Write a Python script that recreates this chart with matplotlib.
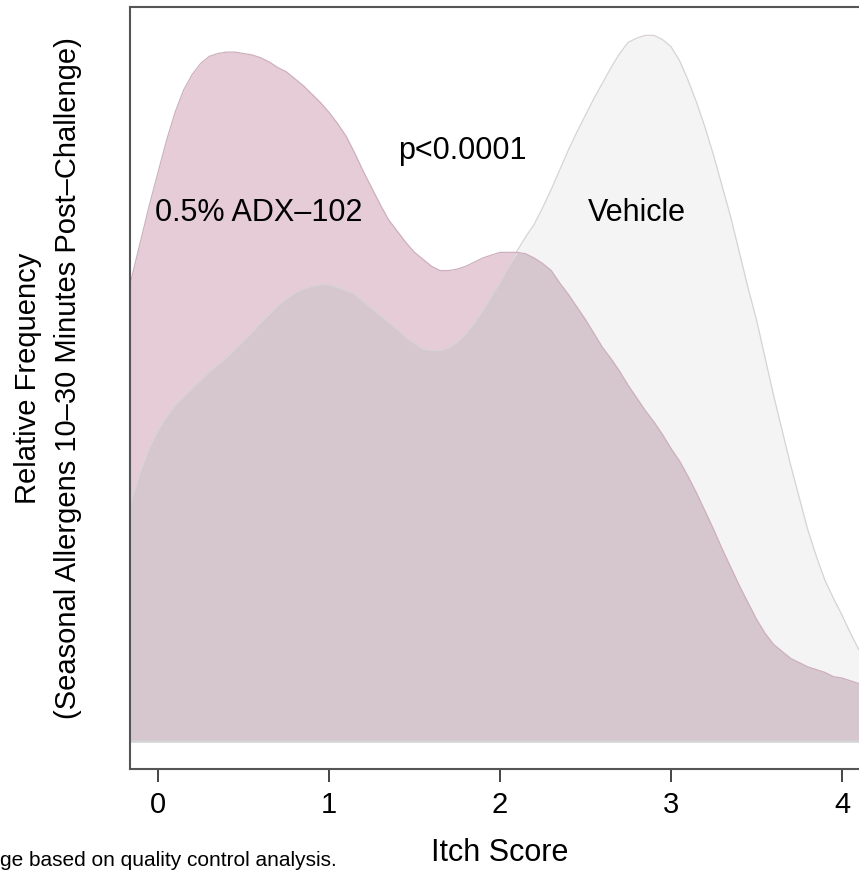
import numpy as np
import matplotlib.pyplot as plt

plt.rcParams['font.family'] = ['Liberation Sans', 'DejaVu Sans']

# itch score grid (x) and density heights
itch = [-0.164, -0.1, -0.05, 0.0, 0.05, 0.1, 0.15, 0.2, 0.25, 0.3, 0.35, 0.4,
        0.45, 0.5, 0.55, 0.6, 0.65, 0.7, 0.75, 0.8, 0.85, 0.9, 0.95, 1.0,
        1.05, 1.1, 1.15, 1.2, 1.25, 1.3, 1.35, 1.4, 1.45, 1.5, 1.55, 1.6,
        1.65, 1.7, 1.75, 1.8, 1.85, 1.9, 1.95, 2.0, 2.05, 2.1, 2.15, 2.2,
        2.25, 2.3, 2.35, 2.4, 2.45, 2.5, 2.55, 2.6, 2.65, 2.7, 2.75, 2.8,
        2.85, 2.9, 2.95, 3.0, 3.05, 3.1, 3.15, 3.2, 3.25, 3.3, 3.35, 3.4,
        3.45, 3.5, 3.55, 3.6, 3.65, 3.7, 3.75, 3.8, 3.85, 3.9, 3.95, 4.0,
        4.05, 4.1]

# 0.5% ADX-102
adx = [0.326, 0.358, 0.383, 0.406, 0.429, 0.449, 0.465, 0.476, 0.484, 0.489,
       0.491, 0.492, 0.492, 0.491, 0.490, 0.488, 0.485, 0.481, 0.478, 0.473,
       0.468, 0.462, 0.456, 0.449, 0.441, 0.432, 0.420, 0.407, 0.395, 0.383,
       0.372, 0.364, 0.356, 0.349, 0.344, 0.339, 0.336, 0.336, 0.337, 0.339,
       0.342, 0.345, 0.347, 0.349, 0.349, 0.349, 0.348, 0.345, 0.341, 0.336,
       0.327, 0.319, 0.310, 0.301, 0.291, 0.281, 0.273, 0.264, 0.254, 0.245,
       0.236, 0.228, 0.219, 0.209, 0.200, 0.189, 0.177, 0.164, 0.151, 0.137,
       0.124, 0.111, 0.099, 0.087, 0.077, 0.069, 0.064, 0.059, 0.056, 0.053,
       0.051, 0.049, 0.046, 0.045, 0.043, 0.041]

# Vehicle
vehicle = [0.169, 0.194, 0.210, 0.222, 0.232, 0.240, 0.246, 0.252, 0.258,
           0.264, 0.269, 0.274, 0.280, 0.286, 0.292, 0.299, 0.305, 0.311,
           0.316, 0.320, 0.323, 0.325, 0.326, 0.326, 0.324, 0.322, 0.319,
           0.314, 0.309, 0.304, 0.299, 0.294, 0.288, 0.284, 0.280, 0.279,
           0.279, 0.281, 0.285, 0.291, 0.299, 0.308, 0.318, 0.328, 0.339,
           0.350, 0.360, 0.369, 0.381, 0.394, 0.408, 0.422, 0.435, 0.447,
           0.459, 0.470, 0.481, 0.491, 0.499, 0.502, 0.504, 0.504, 0.501,
           0.496, 0.486, 0.472, 0.456, 0.438, 0.418, 0.396, 0.374, 0.349,
           0.324, 0.301, 0.274, 0.247, 0.222, 0.197, 0.174, 0.151, 0.132,
           0.115, 0.102, 0.090, 0.077, 0.065]

labels = ['0.5% ADX–102', 'Vehicle']
pvalue = 'p<0.0001'

itch = np.array(itch)
adx = np.array(adx)
vehicle = np.array(vehicle)

fig = plt.figure(figsize=(8.59, 8.73), dpi=100)
ax = fig.add_axes([0.1513, 0.1191, 0.8786, 0.873])

ax.fill_between(itch, 0, adx, color='#e5ccd6', lw=0)
ax.fill_between(itch, 0, vehicle, color='#f4f4f4', lw=0)
ax.fill_between(itch, 0, np.minimum(adx, vehicle), color='#d6c6ce', lw=0)
ax.plot(itch, vehicle, color='#d8d2d5', lw=0.9)
ax.plot(itch, adx, color='#cdb0bd', lw=0.9)
ax.axhline(0, color='#d4d4d4', lw=1.8)

ax.set_xlim(-0.164, 4.25)
ax.set_ylim(-0.02, 0.5243)
ax.set_xticks([0, 1, 2, 3, 4])
ax.set_yticks([])
ax.tick_params(axis='x', length=9, width=1.4, color='#444444', labelsize=21, pad=7)
for s in ax.spines.values():
    s.set_color('#555555')
    s.set_linewidth(1.5)

fig.text(0.5815, 0.0229, 'Itch Score', fontsize=22, ha='center', va='center')
fig.text(0.0559, 0.5665,
         'Relative Frequency\n(Seasonal Allergens 10–30 Minutes Post–Challenge)',
         fontsize=21, rotation=90, ha='center', va='center',
         multialignment='center', linespacing=1.55)

ax.text(0.591, 0.377, labels[0], fontsize=22, ha='center', va='center')
ax.text(2.798, 0.377, labels[1], fontsize=22, ha='center', va='center')
ax.text(1.781, 0.4215, pvalue, fontsize=22, ha='center', va='center')

fig.text(0.0, 0.008, 'ge based on quality control analysis.', fontsize=15,
         ha='left', va='baseline')

fig.savefig('out.png', dpi=100)
